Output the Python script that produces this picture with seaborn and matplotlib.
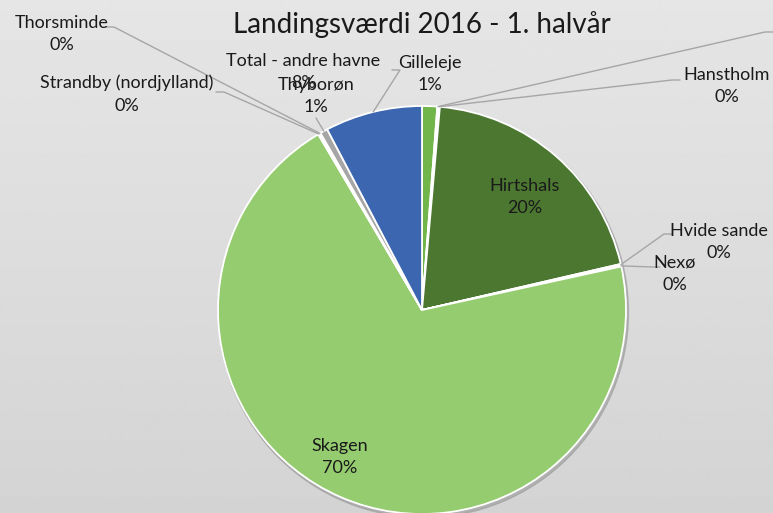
import numpy as np
import matplotlib.pyplot as plt
import seaborn as sns
from matplotlib.patches import Circle

# data (shares, in percent)
ports = ['Gilleleje', '', 'Hanstholm', 'Hirtshals', 'Hvide sande', 'Nexø',
         'Skagen', 'Strandby (nordjylland)', 'Thorsminde', 'Thyborøn',
         'Total - andre havne']
shares = [1.2, 0.1, 0.1, 20.0, 0.1, 0.1, 70.0, 0.1, 0.1, 0.6, 7.7]
colors = ['#72b54a', '#c5e0b4', '#dfeed6', '#4b7731', '#e2f0d9', '#f2f2f2',
          '#95cc70', '#b4b4b4', '#c8c8c8', '#a6a6a6', '#3c67b0']
title = 'Landingsværdi 2016 - 1. halvår'

W, H = 773, 513
def px(x, y):
    return x, H - y

# label layout in pixel coords: text centre, leader elbow (None = no leader)
layout = {
    'Gilleleje': ((430, 74), None),
    '': ((800, 40), (765, 32)),
    'Hanstholm': ((727, 86), (672, 80)),
    'Hirtshals': ((525, 197), None),
    'Hvide sande': ((719, 242), (664, 234)),
    'Nexø': ((675, 274), (652, 267)),
    'Skagen': ((340, 457), None),
    'Strandby (nordjylland)': ((127, 94), (224, 92)),
    'Thorsminde': ((62, 34), (114, 27)),
    'Thyborøn': ((316, 96), (316, 118)),
    'Total - andre havne': ((303, 72), (400, 70)),
}

sns.set_theme(style='white')
plt.rcParams['font.family'] = ['Lato', 'DejaVu Sans']

fig = plt.figure(figsize=(W / 100, H / 100), dpi=100)
ax = fig.add_axes([0, 0, 1, 1])

# light grey gradient background
grad = np.linspace(0.90, 0.83, 256).reshape(-1, 1)
ax.imshow(grad, extent=[0, W, 0, H], cmap='gray', vmin=0, vmax=1,
          aspect='auto', zorder=0)

cx, cy = px(422, 310)
r = 204
ax.add_patch(Circle((cx + 1.5, cy - 2.5), r + 1, color='#9a9a9a', alpha=0.6,
                    zorder=1))
wedges, _ = ax.pie(shares, colors=colors, startangle=90, counterclock=False,
                   center=(cx, cy), radius=r,
                   wedgeprops=dict(edgecolor='white', linewidth=1.3))
for w in wedges:
    w.set_zorder(2)

total = sum(shares)
cum = 0
for name, v in zip(ports, shares):
    mid = np.deg2rad(90 - 360 * (cum + v / 2) / total)
    cum += v
    pct = f'{v / total * 100:.0f}%'
    (tx, ty), elbow = layout[name]
    tx, ty = px(tx, ty)
    txt = f'{name}\n{pct}' if name else ''
    ax.text(tx, ty, txt, ha='center', va='center', fontsize=13,
            color='#1a1a1a', linespacing=1.5, zorder=5)
    if elbow is not None:
        ex, ey = px(*elbow)
        axp = cx + r * np.cos(mid)
        ayp = cy + r * np.sin(mid)
        if name == 'Thyborøn':
            xs = [ex, axp]
            ys = [ey, ayp]
        else:
            side = 1 if tx > ex else -1
            xs = [ex + side * 8, ex, axp]
            ys = [ey, ey, ayp]
        ax.plot(xs, ys, color='#a6a6a6', lw=1, zorder=4)

ax.text(*px(422, 25), title, ha='center', va='center', fontsize=20,
        color='#1a1a1a', zorder=5)

ax.set_xlim(0, W)
ax.set_ylim(0, H)
ax.set_aspect('equal')
ax.axis('off')

fig.savefig('out.png', dpi=100)
